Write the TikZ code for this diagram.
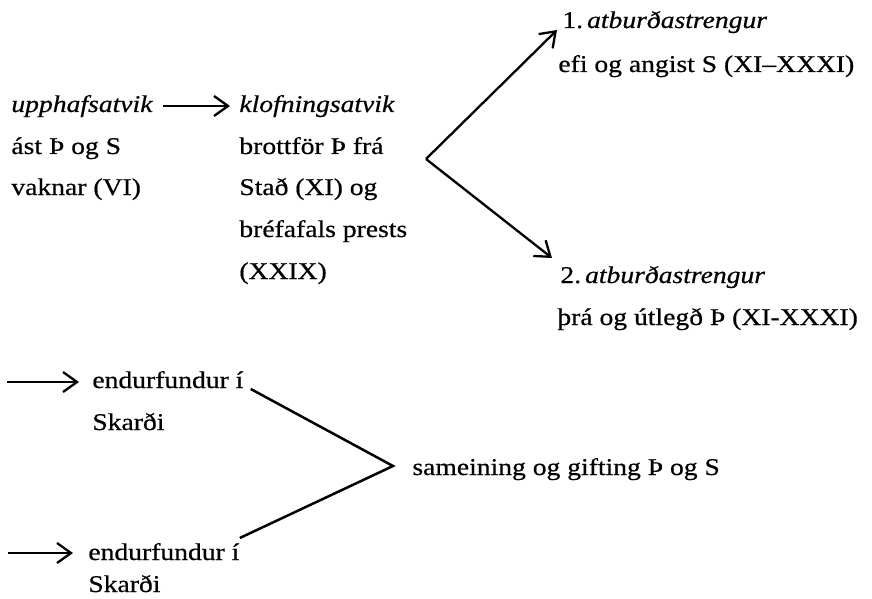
\documentclass[tikz,border=0pt]{standalone}
\usepackage{fontspec}
\setmainfont[FakeStretch=1.15,FakeBold=0.6]{Liberation Serif}
\usetikzlibrary{arrows.meta,calc}
\tikzset{
  txt/.style={anchor=base west, inner sep=0pt, font=\fontsize{12}{14}\selectfont},
  arr/.style={line width=1.15pt, -{Straight Barb[length=7pt,width=10pt,line width=1.15pt]}},
  ln/.style={line width=1.25pt}
}
\begin{document}
\begin{tikzpicture}[x=0.5pt,y=-0.5pt]
\useasboundingbox (0,0) rectangle (872,599);
% left block
\node[txt] (u1) at (11,112) {\itshape upphafsatvik};
\node[txt] (u2) at (11,154) {ást Þ og S};
\node[txt] (u3) at (11,195) {vaknar (VI)};
% klofnings block
\node[txt] (k1) at (239,112) {\itshape klofningsatvik};
\node[txt] (k2) at (239,154) {brottför Þ frá};
\node[txt] (k3) at (239,195) {Stað (XI) og};
\node[txt] (k4) at (239,237) {bréfafals prests};
\node[txt] (k5) at (239,279) {(XXIX)};
% strings
\node[txt] (a1) at (562,28) {1.\,\itshape atburðastrengur};
\node[txt] (a1b) at (558,72) {efi og angist S (XI–XXXI)};
\node[txt] (a2) at (560,283) {2.\,\itshape atburðastrengur};
\node[txt] (a2b) at (557,325) {þrá og útlegð Þ (XI-XXXI)};
% bottom
\node[txt] (e1) at (92,388) {endurfundur í};
\node[txt] (s1) at (92,430) {Skarði};
\node[txt] (sam) at (412,475) {sameining og gifting Þ og S};
\node[txt] (e2) at (88,560) {endurfundur í};
\node[txt] (s2) at (88,592) {Skarði};
% coordinates
\coordinate (br) at (426,159);
\coordinate (v) at ($(sam.base west)+(-19,-9)$);
\coordinate (in1) at (7,382);
\coordinate (in2) at (8,553);
% connectors
\draw[arr] ($(u1.base east)+(10,-6)$) -- ($(k1.base west)+(-9,-6)$);
\draw[arr] (br) -- ($(a1.base west)+(-5,2)$);
\draw[arr] (br) -- ($(a2.base west)+(-8,-25)$);
\draw[arr] (in1) -- ($(e1.base west)+(-13,-6)$);
\draw[arr] (in2) -- ($(e2.base west)+(-15,-7)$);
\draw[ln] ($(e1.base east)+(7,1)$) -- (v) -- ($(e2.base east)+(0,-22)$);
\end{tikzpicture}
\end{document}
